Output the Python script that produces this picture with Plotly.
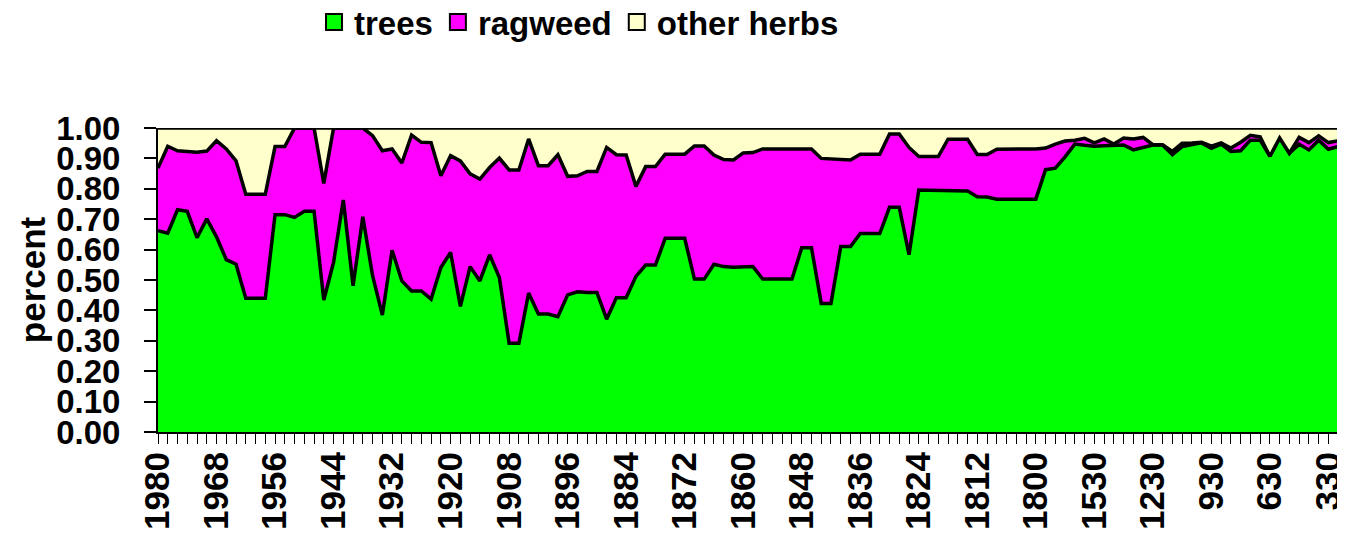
import plotly.graph_objects as go

years = [
    "1980", "1978", "1976", "1974", "1972", "1970", "1968", "1966", "1964", "1962",
    "1960", "1958", "1956", "1954", "1952", "1950", "1948", "1946", "1944", "1942",
    "1940", "1938", "1936", "1934", "1932", "1930", "1928", "1926", "1924", "1922",
    "1920", "1918", "1916", "1914", "1912", "1910", "1908", "1906", "1904", "1902",
    "1900", "1898", "1896", "1894", "1892", "1890", "1888", "1886", "1884", "1882",
    "1880", "1878", "1876", "1874", "1872", "1870", "1868", "1866", "1864", "1862",
    "1860", "1858", "1856", "1854", "1852", "1850", "1848", "1846", "1844", "1842",
    "1840", "1838", "1836", "1834", "1832", "1830", "1828", "1826", "1824", "1822",
    "1820", "1818", "1816", "1814", "1812", "1810", "1808", "1806", "1804", "1802",
    "1800", "1780", "1730", "1680", "1630", "1580", "1530", "1480", "1430", "1380",
    "1330", "1280", "1230", "1180", "1130", "1080", "1030", "980", "930", "880",
    "830", "780", "730", "680", "630", "580", "530", "480", "430", "380",
    "330", "280", "230",
]

trees = [
    0.662, 0.654, 0.731, 0.726, 0.639, 0.701, 0.642, 0.567, 0.552, 0.440,
    0.440, 0.440, 0.715, 0.715, 0.706, 0.726, 0.726, 0.434, 0.558, 0.763,
    0.481, 0.708, 0.514, 0.385, 0.598, 0.497, 0.464, 0.464, 0.437, 0.541,
    0.591, 0.413, 0.544, 0.497, 0.583, 0.508, 0.292, 0.292, 0.457, 0.388,
    0.388, 0.379, 0.451, 0.461, 0.459, 0.459, 0.371, 0.442, 0.442, 0.512,
    0.549, 0.549, 0.637, 0.637, 0.637, 0.503, 0.503, 0.552, 0.544, 0.542,
    0.543, 0.544, 0.503, 0.503, 0.503, 0.503, 0.606, 0.606, 0.423, 0.423,
    0.610, 0.610, 0.653, 0.653, 0.653, 0.739, 0.739, 0.583, 0.796, 0.795,
    0.794, 0.794, 0.794, 0.793, 0.774, 0.773, 0.766, 0.766, 0.766, 0.766,
    0.766, 0.863, 0.868, 0.905, 0.947, 0.943, 0.940, 0.942, 0.944, 0.944,
    0.928, 0.936, 0.944, 0.944, 0.912, 0.939, 0.944, 0.951, 0.933, 0.947,
    0.923, 0.925, 0.960, 0.960, 0.907, 0.967, 0.917, 0.947, 0.928, 0.960,
    0.930, 0.939, 0.939,
]

ragweed = [
    0.206, 0.286, 0.194, 0.197, 0.281, 0.223, 0.316, 0.364, 0.340, 0.342,
    0.342, 0.342, 0.224, 0.224, 0.294, 0.274, 0.274, 0.384, 0.442, 0.237,
    0.519, 0.292, 0.461, 0.540, 0.333, 0.388, 0.513, 0.489, 0.515, 0.302,
    0.318, 0.479, 0.305, 0.335, 0.287, 0.393, 0.570, 0.570, 0.507, 0.488,
    0.488, 0.533, 0.390, 0.382, 0.398, 0.398, 0.565, 0.470, 0.469, 0.296,
    0.324, 0.324, 0.277, 0.277, 0.277, 0.438, 0.438, 0.359, 0.352, 0.353,
    0.375, 0.375, 0.428, 0.428, 0.428, 0.428, 0.325, 0.325, 0.477, 0.476,
    0.286, 0.285, 0.261, 0.261, 0.261, 0.241, 0.241, 0.353, 0.110, 0.111,
    0.112, 0.169, 0.169, 0.170, 0.139, 0.140, 0.164, 0.165, 0.165, 0.165,
    0.165, 0.071, 0.079, 0.052, 0.013, 0.023, 0.011, 0.022, 0.003, 0.023,
    0.036, 0.033, 0.001, 0.001, 0.011, 0.011, 0.007, 0.002, 0.007, 0.004,
    0.011, 0.028, 0.016, 0.011, 0.000, 0.000, 0.000, 0.022, 0.024, 0.014,
    0.022, 0.019, 0.032,
]

other_herbs = [
    0.132, 0.060, 0.075, 0.077, 0.080, 0.076, 0.042, 0.069, 0.108, 0.218,
    0.218, 0.218, 0.061, 0.061, 0.000, 0.000, 0.000, 0.182, 0.000, 0.000,
    0.000, 0.000, 0.025, 0.075, 0.069, 0.115, 0.023, 0.047, 0.048, 0.157,
    0.091, 0.108, 0.151, 0.168, 0.130, 0.099, 0.138, 0.138, 0.036, 0.124,
    0.124, 0.088, 0.159, 0.157, 0.143, 0.143, 0.064, 0.088, 0.089, 0.192,
    0.127, 0.127, 0.086, 0.086, 0.086, 0.059, 0.059, 0.089, 0.104, 0.105,
    0.082, 0.081, 0.069, 0.069, 0.069, 0.069, 0.069, 0.069, 0.100, 0.101,
    0.104, 0.105, 0.086, 0.086, 0.086, 0.020, 0.020, 0.064, 0.094, 0.094,
    0.094, 0.037, 0.037, 0.037, 0.087, 0.087, 0.070, 0.069, 0.069, 0.069,
    0.069, 0.066, 0.053, 0.043, 0.040, 0.034, 0.049, 0.036, 0.053, 0.033,
    0.036, 0.031, 0.055, 0.055, 0.077, 0.050, 0.049, 0.047, 0.060, 0.049,
    0.066, 0.047, 0.024, 0.029, 0.093, 0.033, 0.083, 0.031, 0.048, 0.026,
    0.048, 0.042, 0.029,
]

series_names = ["trees", "ragweed", "other herbs"]
series_colors = ["#00FF00", "#FF00FF", "#FFFFCC"]
series_values = [trees, ragweed, other_herbs]

y_ticks = [0.0, 0.1, 0.2, 0.3, 0.4, 0.5, 0.6, 0.7, 0.8, 0.9, 1.0]
label_every = 6
x_ticktext = [y if i % label_every == 0 else "" for i, y in enumerate(years)]

FONT = "Arial, Liberation Sans, sans-serif"

fig = go.Figure()
for name, color, vals in zip(series_names, series_colors, series_values):
    fig.add_trace(go.Scatter(
        x=years, y=vals, name=name, mode="lines", stackgroup="one",
        line=dict(color="black", width=3.5), fillcolor=color,
        showlegend=False, hoverinfo="x+y+name",
    ))
for name, color in zip(series_names, series_colors):
    fig.add_trace(go.Scatter(
        x=[None], y=[None], name=name, mode="markers",
        marker=dict(symbol="square", size=18, color=color,
                    line=dict(color="black", width=2)),
        showlegend=True,
    ))

fig.update_layout(
    width=1337, height=529,
    margin=dict(l=150, r=0, t=120, b=105),
    paper_bgcolor="white", plot_bgcolor="white",
    font=dict(family=FONT, size=32, color="black", weight="bold"),
    showlegend=True,
    legend=dict(
        orientation="h", xref="container", yref="container",
        x=571 / 1337, xanchor="center", y=1 - 14 / 529, yanchor="middle",
        traceorder="normal",
        font=dict(family=FONT, size=33, color="black", weight="bold"),
        itemwidth=30, bgcolor="rgba(0,0,0,0)",
    ),
    xaxis=dict(
        type="category", range=[0, 121.7], automargin=False,
        tickmode="array", tickvals=years, ticktext=x_ticktext,
        tickangle=-90, ticks="outside", ticklen=10, tickwidth=1,
        tickcolor="black", showline=True, linecolor="black", linewidth=2,
        showgrid=False, zeroline=False, ticklabelstandoff=-6,
        tickfont=dict(family=FONT, size=35, color="black", weight="bold"),
    ),
    yaxis=dict(
        range=[0, 1], tickmode="array", tickvals=y_ticks, tickformat=".2f",
        automargin=False, ticklabelstandoff=17,
        ticks="outside", ticklen=12, tickwidth=1.5, tickcolor="black",
        showline=True, linecolor="black", linewidth=2,
        showgrid=False, zeroline=False,
        tickfont=dict(family=FONT, size=33, color="black", weight="bold"),
        title=dict(text="percent", standoff=0,
                   font=dict(family=FONT, size=35, color="black", weight="bold")),
    ),
)

fig.write_html("out.html")
